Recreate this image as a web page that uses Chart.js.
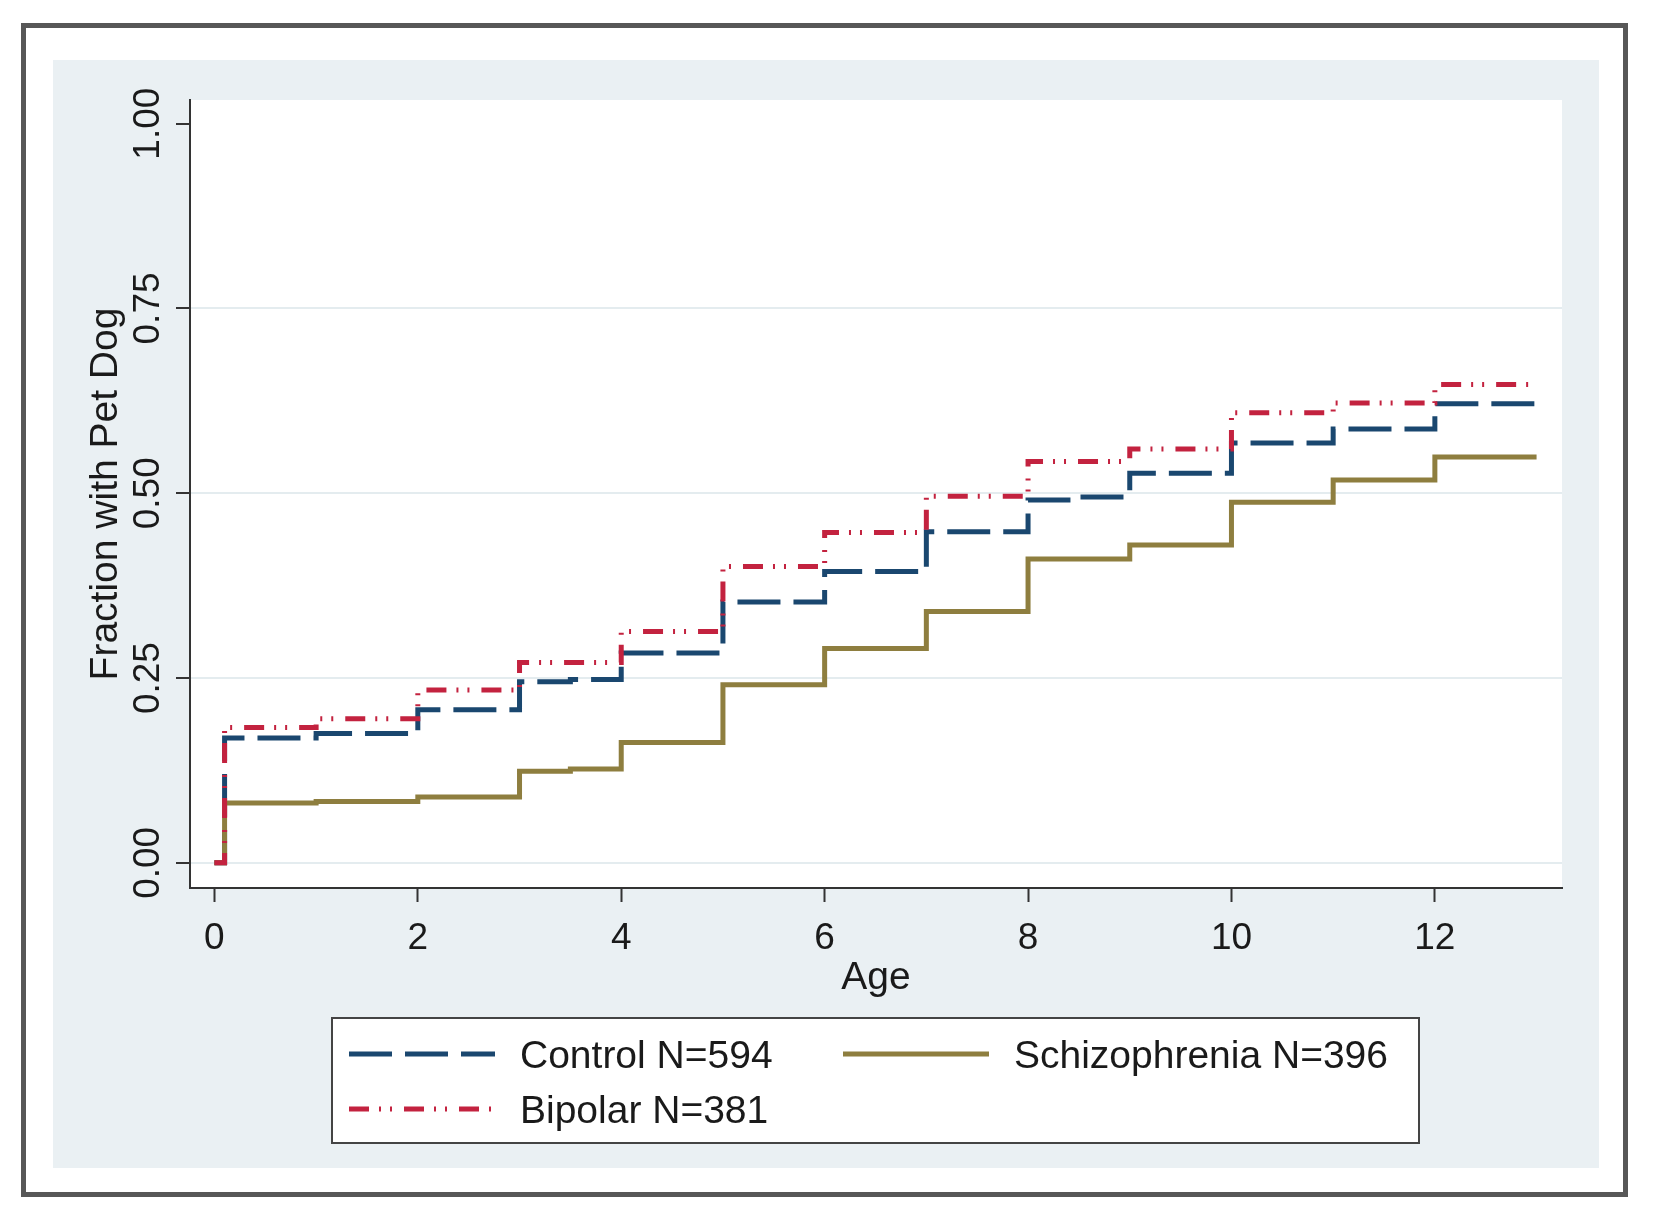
<!DOCTYPE html>
<html lang="en">
<head>
<meta charset="UTF-8">
<title>Fraction with Pet Dog by Age</title>
<script src="https://cdn.jsdelivr.net/npm/chart.js@4.4.0/dist/chart.umd.min.js"></script>
<style>
  body { margin: 0; background: #fff; }
  #wrap { width: 1658px; height: 1220px; }
</style>
</head>
<body>
<div id="wrap"><canvas id="kmChart" width="1658" height="1220"></canvas></div>
<script>
// age points where the curves step
const ages = [0, 0.1, 1, 2, 3, 3.5, 4, 5, 6, 7, 8, 8.5, 9, 10, 11, 12, 13];

const controlValues = [0, 0.169, 0.175, 0.207, 0.245, 0.248, 0.284, 0.353, 0.394, 0.448, 0.491, 0.495, 0.527, 0.568, 0.587, 0.621, 0.621];
const schizoValues  = [0, 0.081, 0.083, 0.089, 0.124, 0.127, 0.163, 0.241, 0.290, 0.340, 0.411, 0.411, 0.430, 0.488, 0.518, 0.549, 0.549];
const bipolarValues = [0, 0.183, 0.195, 0.234, 0.271, 0.271, 0.313, 0.401, 0.447, 0.496, 0.543, 0.543, 0.560, 0.609, 0.622, 0.647, 0.647];

const seriesLabels = ['Control N=594', 'Schizophrenia N=396', 'Bipolar N=381'];

const xTicks = [0, 2, 4, 6, 8, 10, 12];
const yTicks = [0, 0.25, 0.5, 0.75, 1];
const yTickLabels = ['0.00', '0.25', '0.50', '0.75', '1.00'];

const FONT = "'Liberation Sans', Arial, sans-serif";
const TEXT = '#1a1a1a';
const AXIS = '#333';

function toPoints(values) {
    return ages.map((a, i) => ({ x: a, y: values[i] }));
}

// grey graph region, outer frame, white plot area
const backgroundPlugin = {
    id: 'stataBackground',
    beforeDraw(chart) {
        const c = chart.ctx;
        const a = chart.chartArea;
        c.save();
        c.fillStyle = '#fff';
        c.fillRect(0, 0, chart.width, chart.height);
        c.fillStyle = '#eaf0f3';
        c.fillRect(53, 60, 1546, 1108);
        c.strokeStyle = '#575757';
        c.lineWidth = 5;
        c.strokeRect(23.5, 25.5, 1602, 1169);
        c.fillStyle = '#fff';
        c.fillRect(a.left, a.top, a.right - a.left, a.bottom - a.top);
        c.restore();
    }
};

// y tick labels are rotated like the title
const yLabelPlugin = {
    id: 'yRotLabels',
    afterDraw(chart) {
        const s = chart.scales.y;
        const c = chart.ctx;
        c.save();
        c.font = '37px ' + FONT;
        c.fillStyle = TEXT;
        c.textAlign = 'center';
        c.textBaseline = 'middle';
        s.ticks.forEach((t, i) => {
            c.save();
            c.translate(149, s.getPixelForValue(t.value));
            c.rotate(-Math.PI / 2);
            c.fillText(yTickLabels[i], 0, 0);
            c.restore();
        });
        c.restore();
    }
};

// boxed legend, two columns
const legendPlugin = {
    id: 'boxLegend',
    afterDraw(chart) {
        const c = chart.ctx;
        c.save();
        c.fillStyle = '#fff';
        c.fillRect(331, 1017, 1089, 127);
        c.strokeStyle = '#444';
        c.lineWidth = 2;
        c.strokeRect(332, 1018, 1087, 125);
        const slots = [{ x: 349, y: 1054 }, { x: 843, y: 1054 }, { x: 349, y: 1109 }];
        chart.data.datasets.forEach((ds, i) => {
            const s = slots[i];
            c.strokeStyle = ds.borderColor;
            c.lineWidth = ds.borderWidth;
            c.setLineDash(ds.borderDash || []);
            c.beginPath();
            c.moveTo(s.x, s.y);
            c.lineTo(s.x + 146, s.y);
            c.stroke();
            c.setLineDash([]);
            c.fillStyle = TEXT;
            c.font = '39px ' + FONT;
            c.textAlign = 'left';
            c.textBaseline = 'middle';
            c.fillText(ds.label, s.x + 171, s.y + 3);
        });
        c.restore();
    }
};

const ctx = document.getElementById('kmChart').getContext('2d');
const kmChart = new Chart(ctx, {
    type: 'line',
    data: {
        datasets: [
            {
                label: seriesLabels[0],
                data: toPoints(controlValues),
                borderColor: '#1a476f',
                borderDash: [43, 13],
                borderWidth: 5,
                stepped: 'before',
                pointRadius: 0,
                fill: false,
                order: 2
            },
            {
                label: seriesLabels[1],
                data: toPoints(schizoValues),
                borderColor: '#8e7e3f',
                borderDash: [],
                borderWidth: 5,
                stepped: 'before',
                pointRadius: 0,
                fill: false,
                order: 1
            },
            {
                label: seriesLabels[2],
                data: toPoints(bipolarValues),
                borderColor: '#c3223f',
                borderDash: [20, 10, 2, 9, 2, 12],
                borderWidth: 5,
                stepped: 'before',
                pointRadius: 0,
                fill: false,
                order: 0
            }
        ]
    },
    options: {
        responsive: false,
        animation: false,
        layout: { padding: { top: 100, left: 0, right: 96, bottom: 218 } },
        plugins: {
            legend: { display: false },
            tooltip: { enabled: false }
        },
        scales: {
            x: {
                type: 'linear',
                min: -0.24,
                max: 13.25,
                afterBuildTicks: s => { s.ticks = xTicks.map(v => ({ value: v })); },
                afterFit: s => { s.height = 114; },
                grid: { drawOnChartArea: false, drawTicks: true, tickLength: 14, tickColor: AXIS, tickWidth: 2 },
                border: { color: AXIS, width: 2 },
                ticks: {
                    padding: 15,
                    color: TEXT,
                    font: { family: FONT, size: 37 },
                    maxRotation: 0,
                    autoSkip: false,
                    callback: v => String(v)
                },
                title: {
                    display: true,
                    text: 'Age',
                    color: TEXT,
                    font: { family: FONT, size: 39 },
                    padding: { top: 0, bottom: 0 }
                }
            },
            y: {
                type: 'linear',
                min: -0.034,
                max: 1.032,
                afterBuildTicks: s => { s.ticks = yTicks.map(v => ({ value: v })); },
                afterFit: s => { s.width = 190; },
                grid: {
                    color: c => (c.tick && c.tick.value === 1) ? 'rgba(0,0,0,0)' : '#e4ecef',
                    lineWidth: 2,
                    tickColor: AXIS,
                    tickLength: 14,
                    tickWidth: 2
                },
                border: { color: AXIS, width: 2 },
                ticks: { display: false },
                title: {
                    display: true,
                    text: 'Fraction with Pet Dog',
                    color: TEXT,
                    font: { family: FONT, size: 39 },
                    padding: { top: 83, bottom: 0 }
                }
            }
        }
    },
    plugins: [backgroundPlugin, yLabelPlugin, legendPlugin]
});
</script>
</body>
</html>
